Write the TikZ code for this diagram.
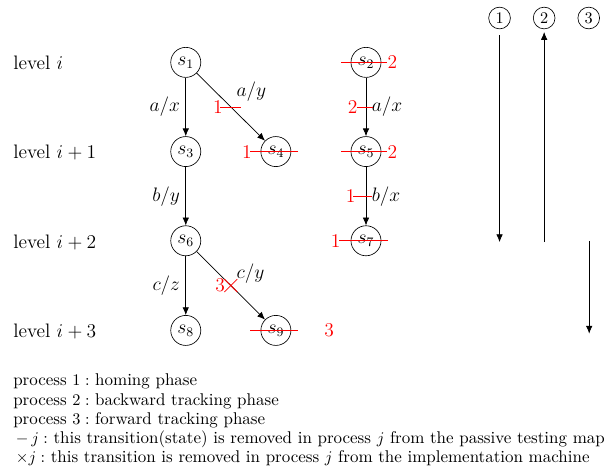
\documentclass[tikz,border=0pt]{standalone}
\usepackage{xcolor}
\usepackage{tikz}
\usetikzlibrary{arrows.meta,positioning}

\begin{document}
\begin{tikzpicture}[
  state/.style={circle,draw,minimum size=0.65cm,inner sep=0pt,font=\large},
  phasenum/.style={circle,draw,minimum size=0.47cm,inner sep=0pt},
  trans/.style={-{Latex[length=4.8pt,width=4pt]},line width=0.45pt},
  lvl/.style={anchor=west,font=\large,inner sep=0pt},
  elabel/.style={font=\large},
  rmline/.style={draw=red,line width=0.5pt},
  rmnum/.style={text=red,font=\large,inner sep=0pt},
]
\useasboundingbox (0,0) rectangle (13.07,-10.26);

%% Levels
\node[lvl] (l0) at (0.28,-1.37) {level $i$};
\node[lvl] (l1) at (0.28,-3.30) {level $i+1$};
\node[lvl] (l2) at (0.28,-5.24) {level $i+2$};
\node[lvl] (l3) at (0.28,-7.17) {level $i+3$};

%% States
\node[state] (s1) at (4.02,-1.35) {$s_1$};
\node[state] (s3) at (4.02,-3.28) {$s_3$};
\node[state] (s6) at (4.02,-5.21) {$s_6$};
\node[state] (s8) at (4.02,-7.15) {$s_8$};
\node[state] (s4) at (5.97,-3.28) {$s_4$};
\node[state] (s9) at (5.97,-7.15) {$s_9$};
\node[state] (s2) at (7.92,-1.35) {$s_2$};
\node[state] (s5) at (7.92,-3.28) {$s_5$};
\node[state] (s7) at (7.92,-5.21) {$s_7$};

%% Transitions
\draw[trans] (s1)--(s3) node[midway,left,elabel]{$a/x$};
\draw[trans] (s1)--(s4) node[midway,above right,elabel]{$a/y$}
  coordinate[midway] (m14);
\draw[trans] (s3)--(s6) node[midway,left,elabel]{$b/y$};
\draw[trans] (s6)--(s8) node[midway,left,elabel]{$c/z$};
\draw[trans] (s6)--(s9) node[midway,above right,elabel,yshift=-2.5pt]{$c/y$}
  coordinate[midway] (m69);
\draw[trans] (s2)--(s5) node[midway,right,elabel]{$a/x$}
  coordinate[midway] (m25);
\draw[trans] (s5)--(s7) node[midway,right,elabel]{$b/x$}
  coordinate[midway] (m57);

%% Removed transitions
\draw[rmline] ([xshift=-0.23cm]m14)--([xshift=0.23cm]m14);
\node[rmnum,anchor=east] (r14) at ([xshift=-0.17cm]m14) {1};
\draw[rmline] ([xshift=-0.2cm]m25)--([xshift=0.16cm]m25);
\node[rmnum,anchor=east] (r25) at ([xshift=-0.18cm]m25) {2};
\draw[rmline] ([xshift=-0.28cm]m57)--([xshift=0.12cm]m57);
\node[rmnum,anchor=east] (r57) at ([xshift=-0.22cm]m57) {1};
\draw[rmline] ([shift={(-0.14,0.14)}]m69)--([shift={(0.14,-0.14)}]m69);
\draw[rmline] ([shift={(-0.14,-0.14)}]m69)--([shift={(0.14,0.14)}]m69);
\node[rmnum,anchor=east] (r69) at ([xshift=-0.12cm]m69) {3};

%% Removed states
\draw[rmline] ([xshift=-0.54cm]s2.center)--([xshift=0.46cm]s2.center)
  node[rmnum,anchor=west] (r2) {2};
\draw[rmline] ([xshift=-0.54cm]s5.center)--([xshift=0.46cm]s5.center)
  node[rmnum,anchor=west] (r5) {2};
\draw[rmline] ([xshift=0.48cm]s4.center)--([xshift=-0.55cm]s4.center)
  node[rmnum,anchor=east,xshift=1pt] (r4) {1};
\draw[rmline] ([xshift=0.48cm]s7.center)--([xshift=-0.58cm]s7.center)
  node[rmnum,anchor=east,xshift=1pt] (r7) {1};
\draw[rmline] ([xshift=-0.55cm]s9.center)--([xshift=0.47cm]s9.center);
\node[rmnum] (r9) at (7.12,-7.15) {3};

%% Processes
\node[phasenum] (p1) at (10.81,-0.39)  {1};
\node[phasenum] (p2) at (11.775,-0.39) {2};
\node[phasenum] (p3) at (12.74,-0.39)  {3};
\coordinate (e1) at (10.81,-5.24);
\coordinate (b2) at (11.775,-5.24);
\coordinate (b3) at (12.75,-5.21);
\coordinate (e3) at (12.75,-7.22);
\draw[trans] ([yshift=-0.13cm]p1.south)--(e1);
\draw[trans] (b2)--([yshift=-0.06cm]p2.south);
\draw[trans] (b3)--(e3);

%% Legend
\node[anchor=north west,align=left,inner sep=0pt,
      font=\fontsize{10.45}{11.8}\selectfont] (legend) at (0.28,-8.09)
  {process $1:$ homing phase\\
   process $2:$ backward tracking phase\\
   process $3:$ forward tracking phase\\
   $\,-\,j:$ this transition(state) is removed in process $j$ from the passive testing map\\
   $\,\times j:$ this transition is removed in process $j$ from the implementation machine};

\end{tikzpicture}
\end{document}
